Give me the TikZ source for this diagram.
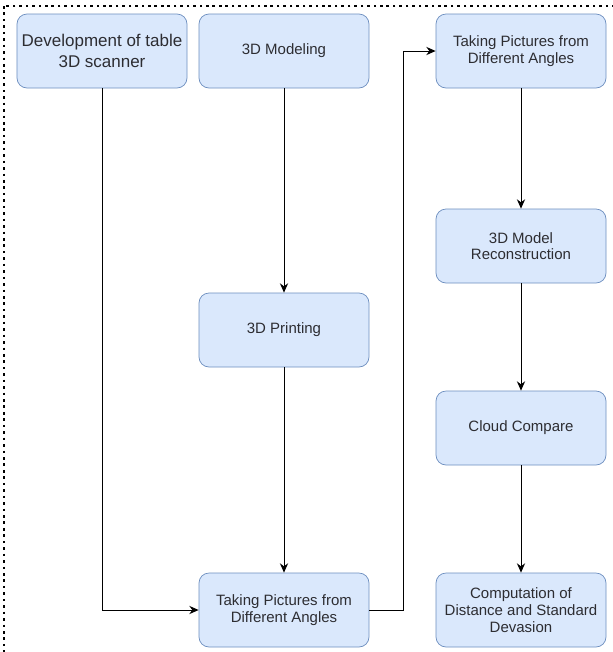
\documentclass[tikz,border=0pt]{standalone}
\usepackage{fontspec}
\setmainfont{Liberation Sans}
\usetikzlibrary{arrows.meta, positioning}
\definecolor{flowFill}{RGB}{218,232,252}
\definecolor{flowEdge}{RGB}{108,142,191}
\definecolor{flowText}{RGB}{45,45,50}

\begin{document}
\begin{tikzpicture}[
    stepbox/.style={draw=flowEdge, fill=flowFill, rounded corners=0.3cm, line width=0.6pt,
      minimum width=5.1cm, minimum height=2.22cm, align=center, text=flowText,
      font=\fontsize{12.8}{14.2}\selectfont},
    flow/.style={-{Stealth[length=8pt, width=7pt]}, line width=0.8pt, black}]
  \useasboundingbox (0,0) rectangle (18.39,-19.56);
  \draw[line width=1.9pt, dash pattern=on 2.2pt off 3.3pt] (0.12,-0.18) rectangle (19.5,-20.5);

  % first column
  \node[stepbox, font=\fontsize{14.5}{18.5}\selectfont] (scanner) at (3.06,-1.53)
    {Development of table\\3D scanner};

  % second column
  \node[stepbox] (model) at (8.52,-1.53) {3D Modeling};
  \node[stepbox] (print) at (8.52,-9.9) {3D Printing};
  \node[stepbox] (shoot) at (8.52,-18.3) {Taking Pictures from\\Different Angles};

  % third column
  \node[stepbox] (shoot2) at (15.63,-1.53) {Taking Pictures from\\Different Angles};
  \node[stepbox] (recon) at (15.63,-7.38) {3D Model\\Reconstruction};
  \node[stepbox] (cloud) at (15.63,-12.84) {Cloud Compare};
  \node[stepbox] (calc) at (15.63,-18.3) {Computation of\\Distance and Standard\\Devasion};

  \coordinate (turn) at (12.09,-18.3);

  \draw[flow] (scanner.south) |- (shoot.west);
  \draw[flow] (model) -- (print);
  \draw[flow] (print) -- (shoot);
  \draw[flow] (shoot.east) -- (turn) |- (shoot2.west);
  \draw[flow] (shoot2) -- (recon);
  \draw[flow] (recon) -- (cloud);
  \draw[flow] (cloud) -- (calc);
\end{tikzpicture}
\end{document}
